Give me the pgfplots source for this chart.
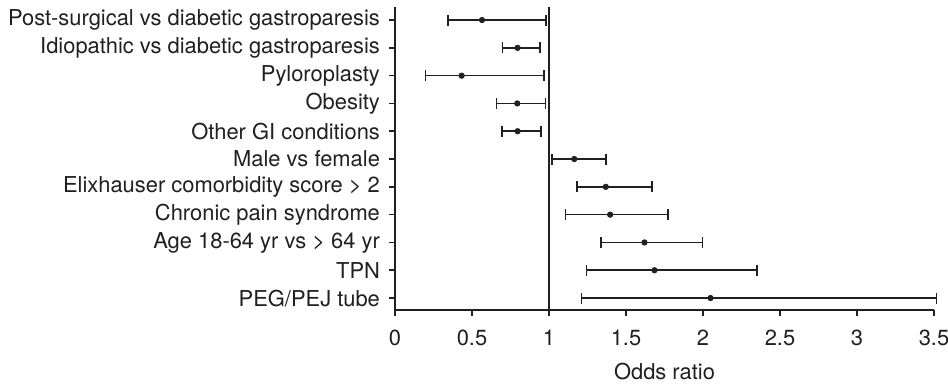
\documentclass[border=0pt]{standalone}
\usepackage{pgfplots}
\pgfplotsset{compat=1.18}
\usepackage{pgfplotstable}
\usepackage{fontspec}
\setmainfont{TeX Gyre Heros}
\definecolor{ink}{HTML}{231F20}
\pgfplotstableread{
y  or     lo     hi
11 0.565  0.344  0.982
10 0.796  0.697  0.941
9  0.433  0.199  0.967
8  0.794  0.658  0.978
7  0.796  0.694  0.947
6  1.164  1.021  1.369
5  1.369  1.181  1.668
4  1.397  1.108  1.774
3  1.620  1.337  1.997
2  1.685  1.244  2.351
1  2.049  1.211  3.515
}\ordata
\begin{document}
\begin{tikzpicture}
\useasboundingbox (-197.5pt,-37pt) rectangle (276.5pt,155pt);
\begin{axis}[
  scale only axis,
  width=269.5pt, height=151.5pt,
  xmin=0, xmax=3.5, ymin=0.57, ymax=11.47,
  axis x line=bottom, axis y line=left,
  axis line style={-, draw=ink, line width=0.8pt},
  tick style={draw=ink, line width=0.8pt},
  tick align=outside,
  major tick length=3pt,
  xtick={0,0.5,1,1.5,2,2.5,3,3.5},
  xticklabels={0,0.5,1,1.5,2,2.5,3,3.5},
  ytick={1,2,3,4,5,6,7,8,9,10,11},
  yticklabels={PEG/PEJ tube, TPN, Age 18-64 yr vs > 64 yr, Chronic pain syndrome, Elixhauser comorbidity score > 2, Male vs female, Other GI conditions, Obesity, Pyloroplasty, Idiopathic vs diabetic gastroparesis, Post-surgical vs diabetic gastroparesis},
  ticklabel style={font=\fontsize{10.95}{12}\selectfont, text=ink},
  yticklabel style={xshift=-1pt},
  xticklabel style={yshift=-3.5pt},
  xlabel={Odds ratio},
  xlabel style={font=\fontsize{10.95}{12}\selectfont, text=ink, yshift=-1.5pt},
  clip=false,
]
\addplot[ink, line width=0.8pt] coordinates {(1,0.57) (1,11.47)};
\addplot[only marks, mark=*, mark size=1.35pt, color=ink,
  error bars/.cd, x dir=both, x explicit, error mark=|,
  error mark options={mark size=2.75pt, line width=0.8pt, ink},
  error bar style={line width=0.8pt, ink}]
  table[x=or, y=y, x error plus expr=\thisrow{hi}-\thisrow{or}, x error minus expr=\thisrow{or}-\thisrow{lo}] {\ordata};
\end{axis}
\end{tikzpicture}
\end{document}
